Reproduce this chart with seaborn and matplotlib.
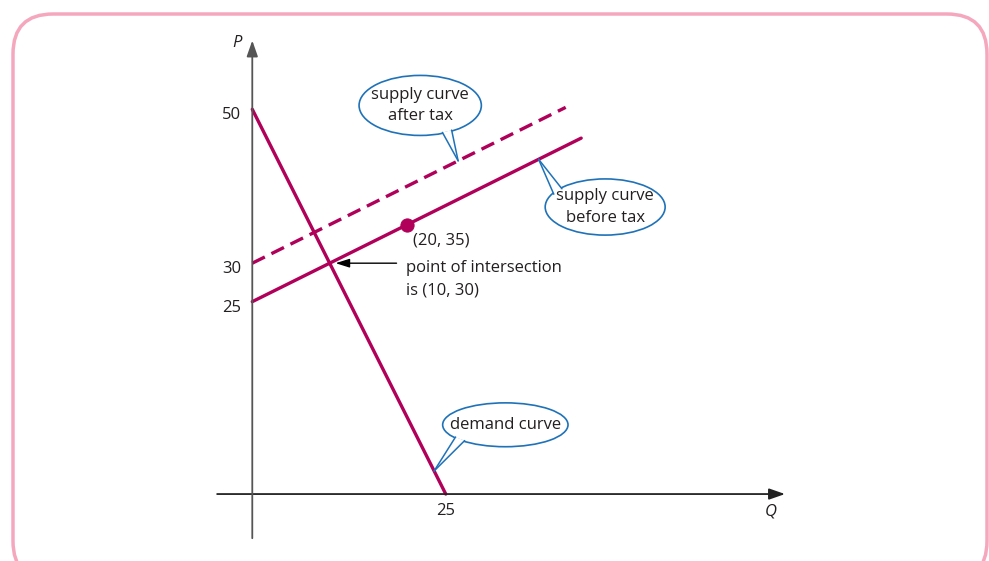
import numpy as np
import pandas as pd
import seaborn as sns
import matplotlib.pyplot as plt
from matplotlib.patches import Ellipse, Polygon, FancyBboxPatch
from matplotlib.transforms import IdentityTransform

# Data for the three curves (Q, P)
demand_q = [0, 25]
demand_p = [50, 0]
supply_q = [0, 42.5]
supply_p = [25, 46.25]
tax_q = [0, 40.5]
tax_p = [30, 50.25]
point_q = [20]
point_p = [35]
cross_q, cross_p = 10, 30

# tick labels
p_ticks = [50, 30, 25]
q_ticks = [25]

line_col = '#b0005a'
blue = '#1f72b8'
txt_col = '#231f20'
fs = 12

sns.set_theme(style='white')
plt.rcParams['font.family'] = ['Open Sans', 'DejaVu Sans']

fig = plt.figure(figsize=(9.89, 5.61), dpi=100)
ax = fig.add_axes([0, 0, 1, 1])
ax.set_xlim(-32.6, 95.2)
ax.set_ylim(-8.7, 64.2)
ax.axis('off')

# pink rounded border (pixel coords)
border = FancyBboxPatch((13, -20), 974, 567, boxstyle='round,pad=0,rounding_size=40',
                        transform=IdentityTransform(), fill=False,
                        edgecolor='#f4a7bd', linewidth=2.5)
fig.patches.append(border)

# axes with arrows
ax.annotate('', xy=(69.2, 0), xytext=(-4.9, 0),
            arrowprops=dict(arrowstyle='-|>,head_length=0.8,head_width=0.28', color='#222222', lw=1.3))
ax.annotate('', xy=(0, 59.3), xytext=(0, -6.1),
            arrowprops=dict(arrowstyle='-|>,head_length=0.8,head_width=0.28', color='#555555', lw=1.3))
ax.text(-1.4, 58.6, 'P', style='italic', fontsize=fs, color=txt_col, ha='right', va='center')
ax.text(67.0, -2.3, 'Q', style='italic', fontsize=fs, color=txt_col, ha='center', va='center')

for p in p_ticks:
    ax.text(-1.4, p - 0.8, str(p), fontsize=fs, color=txt_col, ha='right', va='center')
for q in q_ticks:
    ax.text(q, -2.2, str(q), fontsize=fs, color=txt_col, ha='center', va='center')

# curves
sns.lineplot(x=demand_q, y=demand_p, ax=ax, color=line_col, lw=2.4)
sns.lineplot(x=supply_q, y=supply_p, ax=ax, color=line_col, lw=2.4)
sns.lineplot(x=tax_q, y=tax_p, ax=ax, color=line_col, lw=2.4, linestyle=(0, (4.2, 2.2)))
sns.scatterplot(x=point_q, y=point_p, ax=ax, color=line_col, s=90, edgecolor=line_col, zorder=5)

ax.text(20.8, 33.0, '(%d, %d)' % (point_q[0], point_p[0]), fontsize=fs, color=txt_col,
        ha='left', va='center')

# intersection label with arrow
ax.annotate('', xy=(cross_q + 0.4, cross_p), xytext=(19.0, cross_p),
            arrowprops=dict(arrowstyle='-|>,head_length=0.7,head_width=0.22', color='black', lw=1.0))
ax.text(19.8, cross_p + 0.4, 'point of intersection\nis (%d, %d)' % (cross_q, cross_p),
        fontsize=fs, color=txt_col, ha='left', va='top', linespacing=1.5)


def callout(text, cx, cy, w, h, tip, angles):
    ax.add_patch(Ellipse((cx, cy), w, h, facecolor='white', edgecolor=blue, lw=1.2, zorder=6))
    base = []
    for a in angles:
        r = np.deg2rad(a)
        base.append((cx + 0.485 * w * np.cos(r), cy + 0.485 * h * np.sin(r)))
    ax.add_patch(Polygon([base[0], tip, base[1]], closed=True, facecolor='white',
                         edgecolor='none', zorder=7))
    for b in base:
        ax.plot([b[0], tip[0]], [b[1], tip[1]], color=blue, lw=1.1, zorder=8)
    ax.text(cx, cy, text, fontsize=fs, color=txt_col, ha='center', va='center',
            linespacing=1.45, zorder=9)


callout('supply curve\nafter tax', 21.7, 50.5, 15.8, 7.8, (26.6, 30 + 0.5 * 26.6), (-68, -58))
callout('supply curve\nbefore tax', 45.6, 37.3, 15.5, 7.3, (37.0, 25 + 0.5 * 37.0), (152, 138))
callout('demand curve', 32.7, 9.0, 16.2, 5.7, (23.5, 50 - 2 * 23.5), (-145, -132))

fig.savefig('out.png', dpi=100)
